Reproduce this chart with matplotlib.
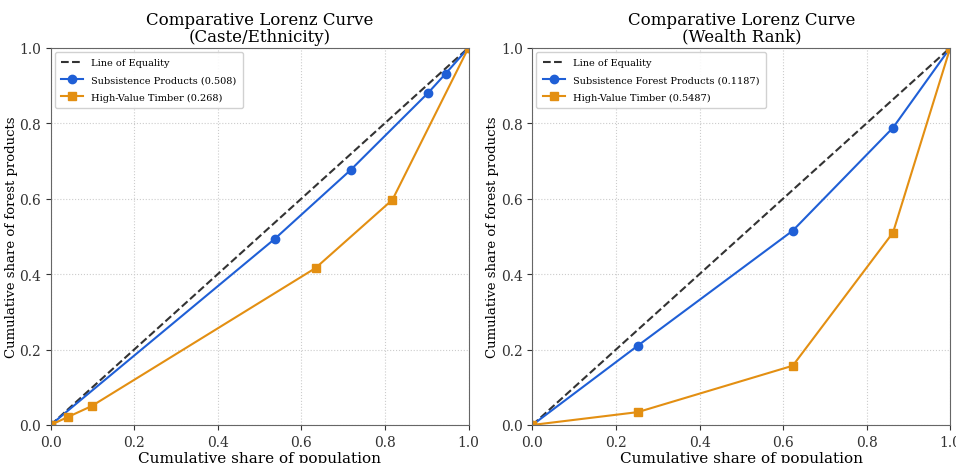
import matplotlib
matplotlib.use("Agg")
import matplotlib.pyplot as plt

plt.rcParams['font.family'] = ['DejaVu Serif']

eq = [0, 1]

caste_sub_x = [0, 0.536, 0.718, 0.904, 0.945, 1.0]
caste_sub_y = [0, 0.493, 0.676, 0.881, 0.931, 1.0]
caste_tim_x = [0, 0.041, 0.098, 0.634, 0.818, 1.0]
caste_tim_y = [0, 0.021, 0.050, 0.416, 0.597, 1.0]

wealth_sub_x = [0, 0.252, 0.623, 0.863, 1.0]
wealth_sub_y = [0, 0.210, 0.515, 0.788, 1.0]
wealth_tim_x = [0, 0.252, 0.623, 0.863, 1.0]
wealth_tim_y = [0, 0.034, 0.157, 0.510, 1.0]

titles = ["Comparative Lorenz Curve\n(Caste/Ethnicity)", "Comparative Lorenz Curve\n(Wealth Rank)"]
sub_labels = ["Subsistence Products (0.508)", "Subsistence Forest Products (0.1187)"]
tim_labels = ["High-Value Timber (0.268)", "High-Value Timber (0.5487)"]

fig, axes = plt.subplots(1, 2, figsize=(9.56, 4.64), dpi=100)
fig.subplots_adjust(left=0.053, right=0.994, bottom=0.082, top=0.895, wspace=0.153)

data = [(caste_sub_x, caste_sub_y, caste_tim_x, caste_tim_y),
        (wealth_sub_x, wealth_sub_y, wealth_tim_x, wealth_tim_y)]

for ax, (sx, sy, tx, ty), t, sl, tl in zip(axes, data, titles, sub_labels, tim_labels):
    ax.plot(eq, eq, linestyle='--', color='#333333', lw=1.5, label='Line of Equality')
    ax.plot(sx, sy, marker='o', color='#1f5fd6', lw=1.5, ms=6, label=sl)
    ax.plot(tx, ty, marker='s', color='#e38f12', lw=1.5, ms=6, label=tl)
    ax.set_xlim(0, 1)
    ax.set_ylim(0, 1)
    ax.set_title(t, fontsize=12, linespacing=1.0, pad=5)
    ax.set_xlabel("Cumulative share of population", fontsize=11, labelpad=2)
    ax.set_ylabel("Cumulative share of forest products", fontsize=9.5, labelpad=1)
    ax.grid(True, linestyle=':', color='#cccccc', lw=0.8)
    ax.tick_params(labelsize=10, colors='#333333', length=3.5)
    for s in ax.spines.values():
        s.set_color('#666666')
    ax.legend(loc='upper left', fontsize=7, labelspacing=0.86, framealpha=0.9,
              borderpad=0.65, handlelength=2.3, borderaxespad=0.4)

fig.savefig("out.png", dpi=100)
